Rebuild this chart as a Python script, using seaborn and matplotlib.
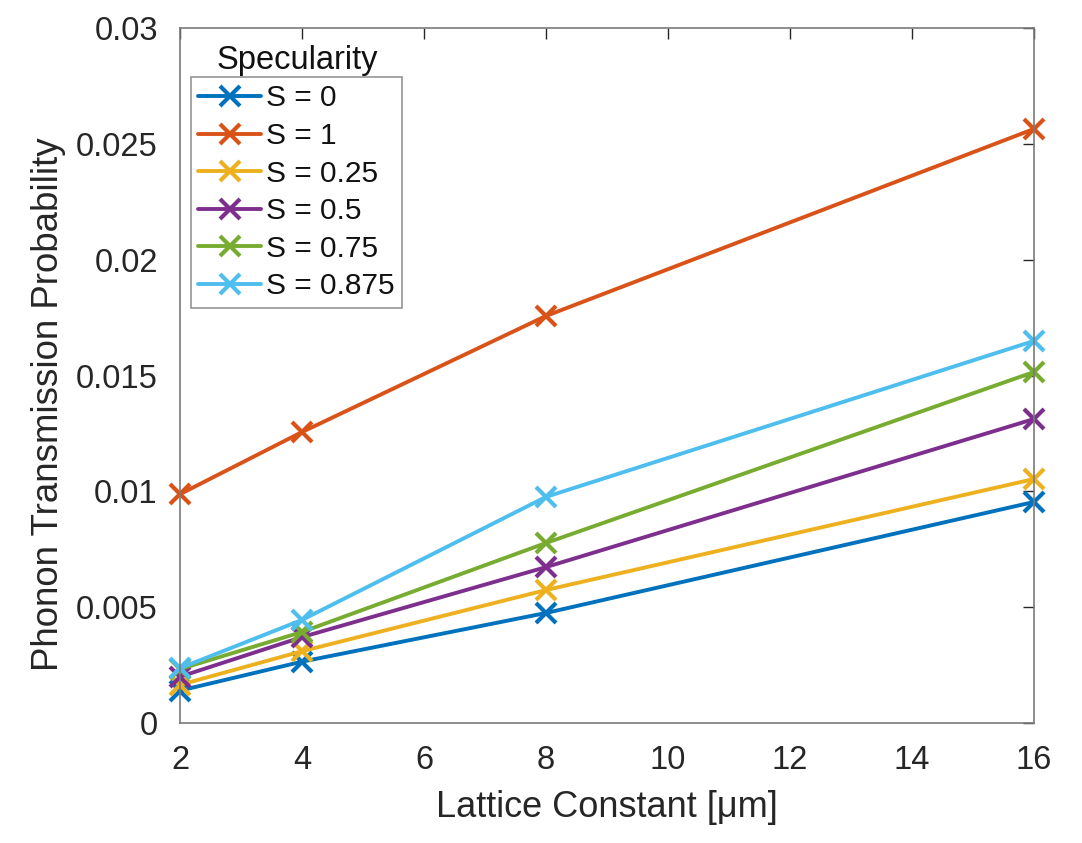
import numpy as np
import pandas as pd
import matplotlib
matplotlib.use("Agg")
import matplotlib.pyplot as plt
import seaborn as sns
from matplotlib.ticker import FuncFormatter, MultipleLocator

# data
lattice = [2, 4, 8, 16]
s_0 = [0.00140, 0.00265, 0.00475, 0.00954]
s_1 = [0.00988, 0.01256, 0.01757, 0.02564]
s_025 = [0.00165, 0.00310, 0.00574, 0.01053]
s_05 = [0.00200, 0.00371, 0.00673, 0.01312]
s_075 = [0.00233, 0.00393, 0.00777, 0.01515]
s_0875 = [0.00237, 0.00445, 0.00976, 0.01649]

labels = ["S = 0", "S = 1", "S = 0.25", "S = 0.5", "S = 0.75", "S = 0.875"]
series = [s_0, s_1, s_025, s_05, s_075, s_0875]
colors = ["#0072BD", "#D95319", "#EDB120", "#7E2F8E", "#77AC30", "#4DBEEE"]

df = pd.DataFrame({
    "Lattice": np.tile(lattice, len(labels)),
    "Prob": np.concatenate(series),
    "Specularity": np.repeat(labels, len(lattice)),
})

sns.set_style("white")
plt.rcParams["font.family"] = ["Liberation Sans", "DejaVu Sans"]

fig = plt.figure(figsize=(10.82, 8.43), dpi=100)
ax = fig.add_axes([0.1664, 0.1423, 0.789, 0.8245])

sns.lineplot(
    data=df, x="Lattice", y="Prob", hue="Specularity",
    hue_order=labels, palette=dict(zip(labels, colors)),
    marker="x", markersize=15, markeredgewidth=3.0, linewidth=2.8,
    ax=ax,
)
for ln in ax.lines:
    ln.set_markeredgecolor(ln.get_color())
    ln.set_clip_on(False)

ax.set_xlim(2, 16)
ax.set_ylim(0, 0.03)
ax.xaxis.set_major_locator(MultipleLocator(2))
ax.yaxis.set_major_locator(MultipleLocator(0.005))
ax.yaxis.set_major_formatter(FuncFormatter(lambda v, p: "%g" % round(v, 4)))

for sp in ax.spines.values():
    sp.set_visible(True)
    sp.set_color("#7a7a7a")
    sp.set_linewidth(1.2)
ax.tick_params(direction="in", length=8, width=1.0, color="#262626",
               top=True, right=True, labelsize=23.5, labelcolor="#262626", pad=16)

ax.set_xlabel("Lattice Constant [\u03bcm]", fontsize=26, color="#262626", labelpad=10)
ax.set_ylabel("Phonon Transmission Probability", fontsize=26.4, color="#262626")
ax.yaxis.set_label_coords(-0.134, 0.459)

handles, lbls = ax.get_legend_handles_labels()
for h in handles:
    h.set_markeredgecolor(h.get_color())
leg = ax.legend(handles, lbls, loc="upper left",
                bbox_to_anchor=(191 / 1082, 1 - 77 / 843),
                bbox_transform=fig.transFigure,
                fontsize=21.5, frameon=True, fancybox=False,
                handlelength=2.1, handletextpad=0.15, labelspacing=0.32,
                borderpad=0.25, borderaxespad=0)
leg.get_frame().set_edgecolor("#7a7a7a")
leg.get_frame().set_linewidth(1.2)
for t in leg.get_texts():
    t.set_color("#111111")
fig.text(297 / 1082, 1 - 60 / 843, "Specularity", ha="center", va="center",
         fontsize=23.5, color="#111111")

fig.savefig("out.png", dpi=100)
